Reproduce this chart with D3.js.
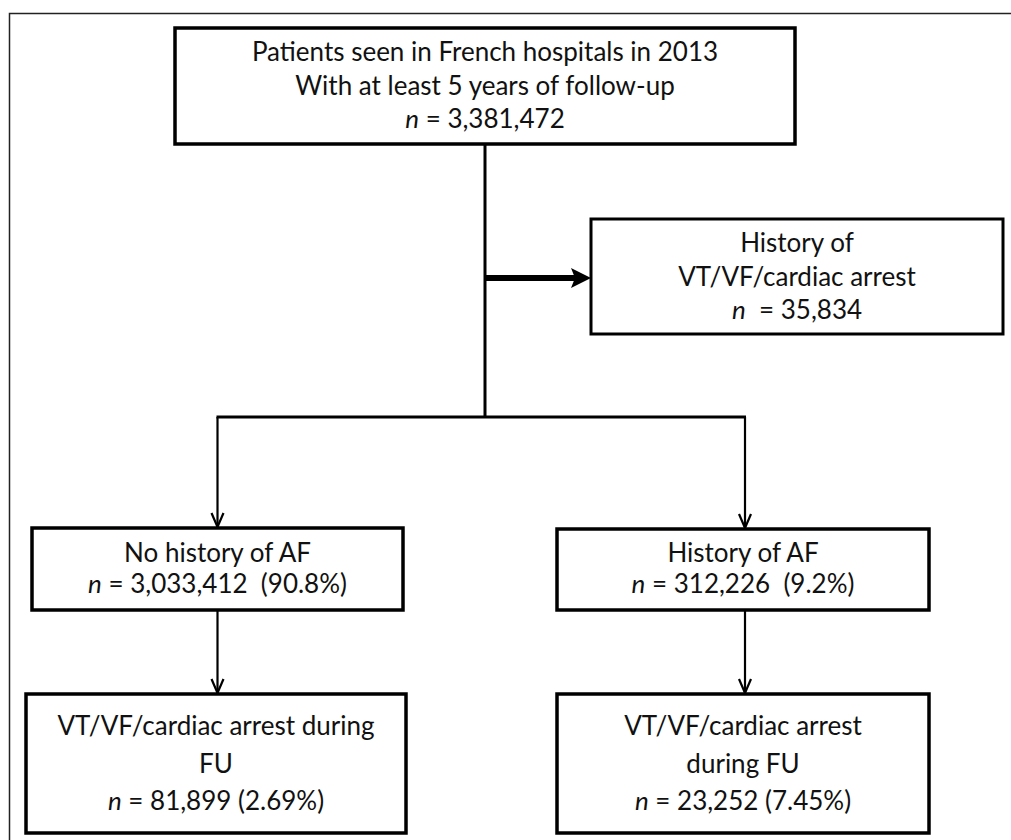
<!DOCTYPE html>
<meta charset="utf-8">
<style>
body { margin: 0; background: #fff; }
svg { display: block; font-family: Lato, "Open Sans", sans-serif; }
.box { fill: #fff; stroke: #000; }
.link { fill: none; stroke: #000; }
text { fill: #111; font-size: 26px; text-anchor: middle; }
</style>
<body>
<svg width="1011" height="840"></svg>
<script src="https://d3js.org/d3.v7.min.js"></script>
<script>
// flowchart content
var nodeIds = ["root", "excluded", "noAF", "AF", "noAFevent", "AFevent"];
var nodeLines = [
    ["Patients seen in French hospitals in 2013", "With at least 5 years of follow-up"],
    ["History of", "VT/VF/cardiac arrest"],
    ["No history of AF"],
    ["History of AF"],
    ["VT/VF/cardiac arrest during", "FU"],
    ["VT/VF/cardiac arrest", "during FU"]
];
var nodeCounts = [3381472, 35834, 3033412, 312226, 81899, 23252];
var nodePercents = [null, null, 90.8, 9.2, 2.69, 7.45];
var links = [
    ["root", "excluded"],
    ["root", "noAF"],
    ["root", "AF"],
    ["noAF", "noAFevent"],
    ["AF", "AFevent"]
];

/********************************
 * LAYOUT (pixels)
 ********************************/
// x0, y0, x1, y1, line height, first baseline offset, border
var layout = {
    root:      [175, 28, 795, 144, 33.5, 33, 3.5],
    excluded:  [591, 219, 1003, 334, 33.5, 33, 3],
    noAF:      [32, 528, 403, 610, 31, 34, 3.5],
    AF:        [557, 529, 929, 610, 31, 33, 3.5],
    noAFevent: [26, 694, 406, 833, 37.5, 41, 3.5],
    AFevent:   [557, 694, 929, 833, 37.5, 41, 3.5]
};
var trunkX = 485, sideY = 278, branchY = 417;

var fmt = d3.format(",");
var nodes = nodeIds.map(function(id, i) {
    var b = layout[id];
    return {id: id, lines: nodeLines[i], count: nodeCounts[i], pct: nodePercents[i],
            x0: b[0], y0: b[1], x1: b[2], y1: b[3], lh: b[4], top: b[5], bw: b[6],
            cx: (b[0] + b[2]) / 2};
});
var byId = {};
nodes.forEach(function(n) { byId[n.id] = n; });

var svg = d3.select("svg");

// outer frame
svg.append("rect")
    .attr("x", 9.5).attr("y", 13.5)
    .attr("width", 1010).attr("height", 840)
    .attr("fill", "none").attr("stroke", "#222").attr("stroke-width", 1.5);

var line = d3.line();

function chevron(x, y) {
    return line([[x - 6, y - 14], [x, y], [x + 6, y - 14]]);
}

// connectors
var root = byId.root, exc = byId.excluded;
svg.append("path").attr("class", "link").attr("stroke-width", 3)
    .attr("d", line([[trunkX, root.y1], [trunkX, branchY]]));
svg.append("path").attr("class", "link").attr("stroke-width", 6)
    .attr("d", line([[trunkX, sideY], [exc.x0 - 16, sideY]]));
svg.append("path").attr("fill", "#000")
    .attr("d", line([[exc.x0 - 20, sideY - 10], [exc.x0, sideY], [exc.x0 - 20, sideY + 10], [exc.x0 - 16, sideY]]) + "Z");

var branchXs = [byId.noAF.cx, byId.AF.cx + 2];
svg.append("path").attr("class", "link").attr("stroke-width", 3)
    .attr("d", line([[branchXs[0] - 1, branchY], [branchXs[1] + 1, branchY]]));

links.slice(1).forEach(function(l, i) {
    var s = byId[l[0]], t = byId[l[1]];
    var x = i < 2 ? branchXs[i] : branchXs[i - 2];
    var y0 = i < 2 ? branchY : s.y1;
    svg.append("path").attr("class", "link").attr("stroke-width", 2.2)
        .attr("d", line([[x, y0], [x, t.y0 - 1]]));
    svg.append("path").attr("class", "link").attr("stroke-width", 2.2)
        .attr("d", chevron(x, t.y0 - 1));
});

// boxes
var g = svg.selectAll("g.node")
    .data(nodes)
  .enter().append("g")
    .attr("class", "node");

g.append("rect")
    .attr("class", "box")
    .attr("x", function(d) { return d.x0; })
    .attr("y", function(d) { return d.y0; })
    .attr("width", function(d) { return d.x1 - d.x0; })
    .attr("height", function(d) { return d.y1 - d.y0; })
    .attr("stroke-width", function(d) { return d.bw; });

g.each(function(d) {
    var sel = d3.select(this);
    d.lines.forEach(function(s, k) {
        sel.append("text")
            .attr("x", d.cx)
            .attr("y", d.y0 + d.top + k * d.lh)
            .text(s);
    });
    var t = sel.append("text")
        .attr("x", d.cx)
        .attr("y", d.y0 + d.top + d.lines.length * d.lh)
        .attr("xml:space", "preserve");
    t.append("tspan").style("font-style", "italic").text("n");
    var sep = d.id == "excluded" ? "  = " : " = ";
    var rest = sep + fmt(d.count);
    if (d.pct != null) {
        rest += (d.id == "noAF" || d.id == "AF" ? "  (" : " (") + d.pct + "%)";
    }
    t.append("tspan").text(rest);
});
</script>
</body>
